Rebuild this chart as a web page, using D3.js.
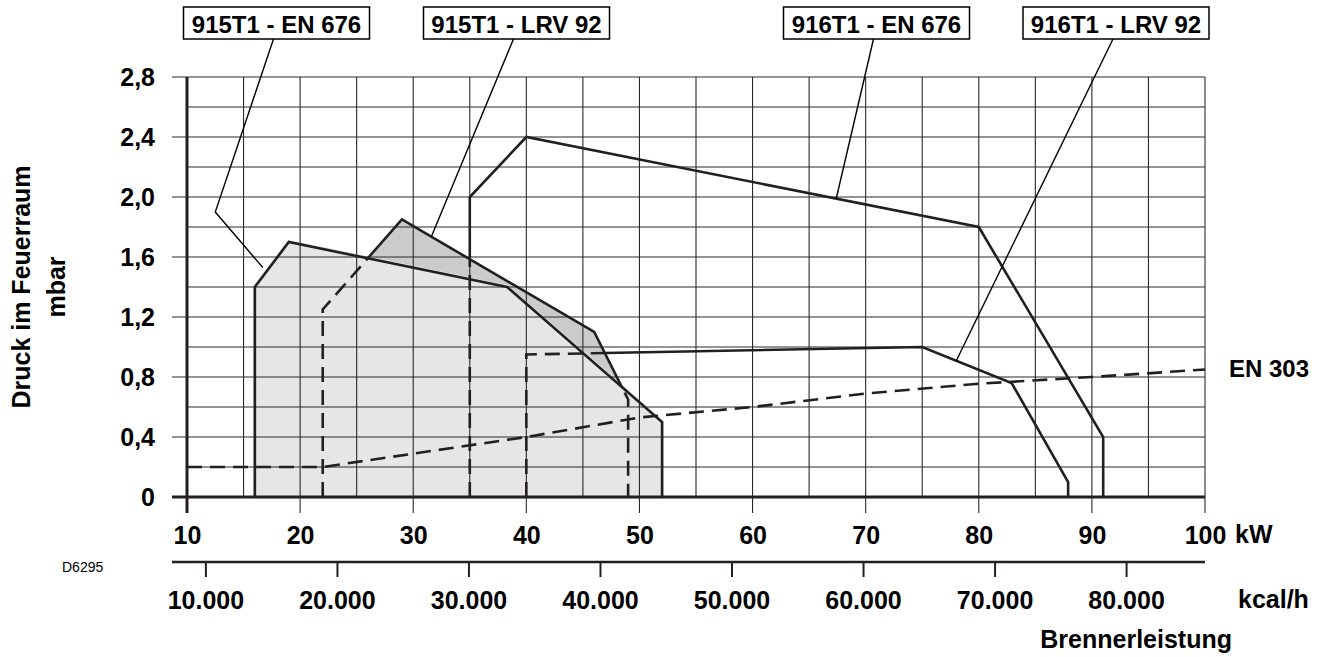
<!DOCTYPE html>
<html><head><meta charset="utf-8">
<script src="https://cdn.jsdelivr.net/npm/d3@7"></script>
<style>
body{margin:0;background:#fff;}
svg text{font-family:"Liberation Sans",Arial,Helvetica,sans-serif;font-weight:bold;fill:#000;}
</style></head><body>
<svg id="c" width="1325" height="657"></svg>
<script>
// ---------- data ----------
const kwTicks   = [10,20,30,40,50,60,70,80,90,100];
const mbarTicks = [0,0.4,0.8,1.2,1.6,2.0,2.4,2.8];
const kcalTicks = [10000,20000,30000,40000,50000,60000,70000,80000];

const en676_915_kw   = [16, 16, 19, 38.3, 52, 52];
const en676_915_mbar = [0, 1.4, 1.7, 1.4, 0.5, 0];
const lrv92_915_kw   = [22, 22, 29, 46, 49, 49];
const lrv92_915_mbar = [0, 1.25, 1.85, 1.1, 0.65, 0];
const en676_916_kw   = [35, 35, 40, 80, 91, 91];
const en676_916_mbar = [0, 2.0, 2.4, 1.8, 0.4, 0];
const lrv92_916_kw   = [40, 40, 75, 82.9, 87.9, 87.9];
const lrv92_916_mbar = [0, 0.95, 1.0, 0.76, 0.1, 0];
const en303_kw       = [10, 22, 40, 50, 60, 70, 80, 90, 100];
const en303_mbar     = [0.2, 0.2, 0.4, 0.53, 0.6, 0.69, 0.755, 0.80, 0.85];

const labelNames = ["915T1 - EN 676","915T1 - LRV 92","916T1 - EN 676","916T1 - LRV 92"];
const leaderKw   = [[12.5,16.7],[31.6],[67.4],[78.0]];
const leaderMbar = [[1.9,1.53],[1.735],[1.99],[0.907]];

// ---------- layout ----------
const W=1325,H=657;
const L={x0:187,x1:1205,y0:497,y1:77,tickL:172,tickB:513,kcalY:562,
  boxCx:[276.5,516.5,876.5,1116],boxW:186,boxTop:7,boxH:32};
const ink="#231f20";

const x=d3.scaleLinear().domain([10,100]).range([L.x0,L.x1]);
const y=d3.scaleLinear().domain([0,2.8]).range([L.y0,L.y1]);
const xk=d3.scaleLinear().domain([10*860,100*860]).range([L.x0,L.x1]);

const svg=d3.select("#c");
const defs=svg.append("defs");
const pts=(a,b)=>d3.zip(a,b);
const line=d3.line().x(d=>x(d[0])).y(d=>y(d[1]));
const polyEN676=pts(en676_915_kw,en676_915_mbar);
const polyLRV=pts(lrv92_915_kw,lrv92_915_mbar);

function mask(id, inside, polys){
  const m=defs.append("mask").attr("id",id).attr("maskUnits","userSpaceOnUse")
    .attr("x",0).attr("y",0).attr("width",W).attr("height",H);
  m.append("rect").attr("width",W).attr("height",H).attr("fill",inside?"black":"white");
  polys.forEach(p=>m.append("path").attr("d",line(p)+"Z").attr("fill",inside?"white":"black"));
}
mask("out915",false,[polyEN676,polyLRV]);
mask("in915",true,[polyEN676,polyLRV]);
mask("outEN",false,[polyEN676]);
mask("inEN",true,[polyEN676]);

// fills
svg.append("path").attr("d",line(polyLRV)+"Z").attr("fill","#cbcbcb");
svg.append("path").attr("d",line(polyEN676)+"Z").attr("fill","#e6e6e6")
  .attr("stroke","#e6e6e6").attr("stroke-width",4).attr("stroke-linejoin","round");

// grid
const g=svg.append("g").attr("stroke","#2a2a2a").attr("stroke-width",1.1);
d3.range(10,100.01,5).forEach(v=>{
  const major=Math.abs(v%10)<1e-9;
  g.append("line").attr("x1",x(v)).attr("x2",x(v)).attr("y1",y(2.8)).attr("y2",major?L.tickB:y(0));
});
d3.range(0,2.801,0.2).forEach(v=>{
  const major=Math.abs((v/0.4)-Math.round(v/0.4))<1e-6;
  g.append("line").attr("y1",y(v)).attr("y2",y(v)).attr("x1",major?L.tickL:L.x0).attr("x2",x(100));
});
// thick axes
svg.append("line").attr("x1",L.x0).attr("x2",L.x0).attr("y1",y(2.8)).attr("y2",L.tickB)
  .attr("stroke",ink).attr("stroke-width",3);
svg.append("line").attr("x1",L.tickL).attr("x2",x(100)).attr("y1",y(0)).attr("y2",y(0))
  .attr("stroke",ink).attr("stroke-width",3);

// x axis labels (kW)
const ax=svg.append("g").attr("transform",`translate(0,${y(0)})`)
  .call(d3.axisBottom(x).tickValues(kwTicks).tickSize(16).tickPadding(13).tickFormat(d3.format("d")));
ax.select(".domain").remove();
ax.selectAll(".tick line").remove();
ax.selectAll("text").attr("font-size",25);
ax.attr("font-family",null).attr("font-size",null);
svg.append("text").attr("x",1235).attr("y",543).attr("font-size",25).text("kW");

// y axis labels
const ay=svg.append("g").attr("transform",`translate(${L.x0},0)`)
  .call(d3.axisLeft(y).tickValues(mbarTicks).tickSize(15).tickPadding(17)
    .tickFormat(d=>d===0?"0":d.toFixed(1).replace(".",",")));
ay.select(".domain").remove();
ay.selectAll(".tick line").remove();
ay.selectAll("text").attr("font-size",25);
ay.attr("font-family",null).attr("font-size",null);

// kcal axis
const de=d3.formatLocale({decimal:",",thousands:".",grouping:[3],currency:["","€"]});
svg.append("line").attr("x1",L.tickL).attr("x2",L.x1).attr("y1",L.kcalY).attr("y2",L.kcalY)
  .attr("stroke",ink).attr("stroke-width",2.6);
const ak=svg.append("g").attr("transform",`translate(0,${L.kcalY})`)
  .call(d3.axisBottom(xk).tickValues(kcalTicks).tickSize(15).tickPadding(14).tickFormat(de.format(",")));
ak.select(".domain").remove();
ak.selectAll(".tick line").attr("stroke",ink).attr("stroke-width",2);
ak.selectAll("text").attr("font-size",25);
ak.attr("font-family",null).attr("font-size",null);
svg.append("text").attr("x",1238).attr("y",608).attr("font-size",25).text("kcal/h");
svg.append("text").attr("x",1232).attr("y",648).attr("font-size",25).attr("text-anchor","end").text("Brennerleistung");
svg.append("text").attr("x",62).attr("y",572).attr("font-size",14).style("font-weight","normal").text("D6295");

// y title
svg.append("text").attr("transform","translate(30,287) rotate(-90)").attr("text-anchor","middle")
  .attr("font-size",25).text("Druck im Feuerraum");
svg.append("text").attr("transform","translate(65,287) rotate(-90)").attr("text-anchor","middle")
  .attr("font-size",25).text("mbar");

// data lines
function draw(p, dashed, maskId){
  const s=svg.append("path").attr("d",line(p)).attr("fill","none").attr("stroke",ink)
    .attr("stroke-width",2.6).attr("stroke-linejoin","miter");
  if(dashed) s.attr("stroke-dasharray","15,8");
  if(maskId) s.attr("mask",`url(#${maskId})`);
}
// EN 303
draw(pts(en303_kw,en303_mbar),true,null);
// 915T1 EN676 outline
draw(polyEN676,false,null);
// 915T1 LRV92: dashed inside EN676, solid outside
draw(polyLRV,true,"inEN");
draw(polyLRV,false,"outEN");
// 916T1
[pts(en676_916_kw,en676_916_mbar),pts(lrv92_916_kw,lrv92_916_mbar)].forEach(p=>{
  draw(p,true,"in915");
  draw(p,false,"out915");
});
svg.append("text").attr("x",1229).attr("y",377).attr("font-size",24).text("EN 303");

// labels + leaders
labelNames.forEach((name,i)=>{
  const cx=L.boxCx[i];
  const lp=[[cx-3,L.boxTop+L.boxH]].concat(leaderKw[i].map((k,j)=>[x(k),y(leaderMbar[i][j])]));
  svg.append("path").attr("d",d3.line()(lp)).attr("fill","none").attr("stroke","#000").attr("stroke-width",1.4);
  svg.append("rect").attr("x",cx-L.boxW/2).attr("y",L.boxTop).attr("width",L.boxW).attr("height",L.boxH)
    .attr("fill","#fff").attr("stroke","#000").attr("stroke-width",1.5);
  svg.append("text").attr("x",cx).attr("y",L.boxTop+26).attr("text-anchor","middle").attr("font-size",24).text(name);
});
</script>
</body></html>
